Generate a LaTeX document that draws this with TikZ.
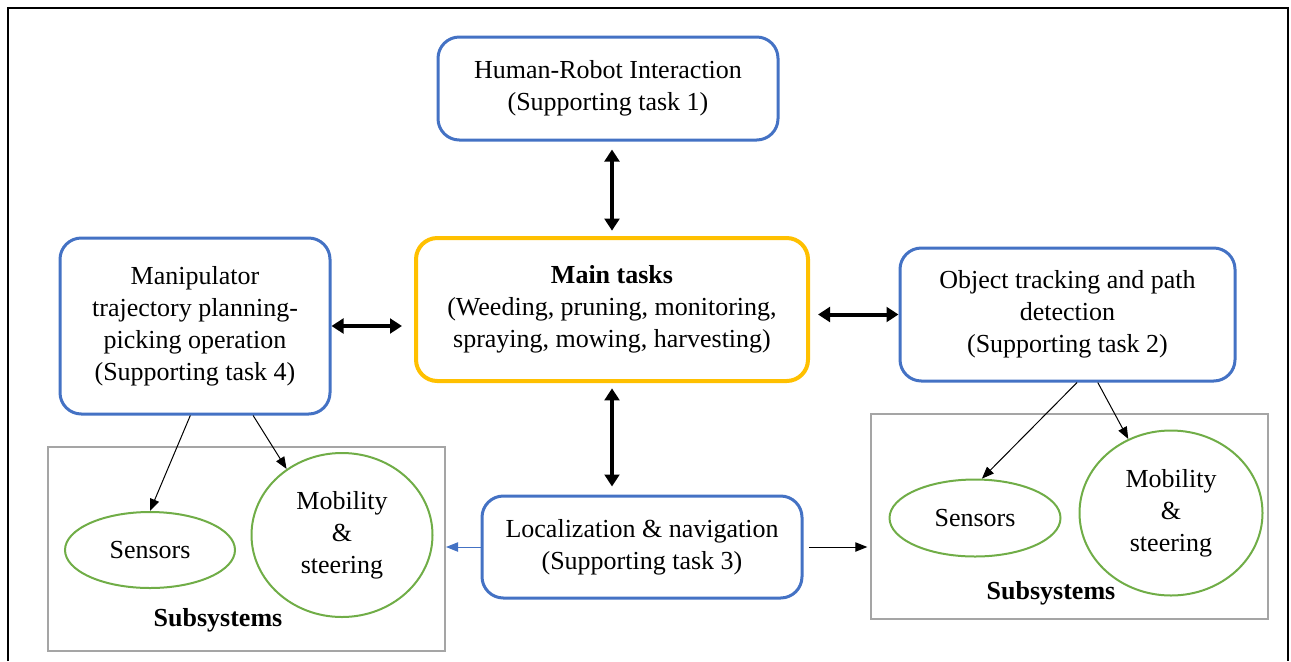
\documentclass[tikz,border=0pt]{standalone}
\usepackage{fontspec}
\setmainfont{Liberation Serif}
\usetikzlibrary{arrows.meta,shapes.geometric}
\definecolor{taskblue}{HTML}{4472C4}
\definecolor{maingold}{HTML}{FFC000}
\definecolor{partgreen}{HTML}{70AD47}
\definecolor{boxgray}{HTML}{A5A5A5}
\begin{document}
\begin{tikzpicture}[
    x=0.75pt, y=-0.75pt,
    font=\fontsize{19.5}{24}\selectfont,
    task/.style={draw=taskblue, line width=2.25pt, rounded corners=16pt, align=center, inner sep=0pt},
    maintask/.style={task, draw=maingold, line width=3pt},
    part/.style={ellipse, draw=partgreen, line width=1.5pt, align=center, inner sep=0pt},
    subbox/.style={draw=boxgray, line width=1.5pt, inner sep=0pt},
    link/.style={{Triangle[length=9pt,width=11pt]}-{Triangle[length=9pt,width=11pt]}, line width=3pt},
    feed/.style={-{Triangle[length=9pt,width=7pt]}, line width=0.75pt}
    ]
    \useasboundingbox (0,0) rectangle (1291,661);
    \draw[line width=1.5pt] (8,661) -- (8,8) -- (1288,8) -- (1288,661);
    % tasks
    \node[task, minimum width=255pt, minimum height=77.25pt] (hri) at (608,88.5)
        {Human-Robot Interaction\\(Supporting task 1)};
    \node[maintask, minimum width=294pt, minimum height=107.25pt] (main) at (612,309.5)
        {\textbf{Main tasks}\\(Weeding, pruning, monitoring,\\spraying, mowing, harvesting)};
    \node[task, minimum width=202.5pt, minimum height=132pt] (manip) at (195,326)
        {Manipulator\\trajectory planning-\\picking operation\\(Supporting task 4)};
    \node[task, minimum width=251.25pt, minimum height=99.75pt] (object) at (1067.5,314.5)
        {Object tracking and path\\detection\\(Supporting task 2)};
    \node[task, minimum width=240pt, minimum height=76.5pt] (loc) at (642,547)
        {Localization \& navigation\\(Supporting task 3)};
    % subsystems
    \node[subbox, minimum width=297.75pt, minimum height=153pt] (subL) at (246.5,549) {};
    \node[subbox, minimum width=297.75pt, minimum height=153.75pt] (subR) at (1069.5,516.5) {};
    \node[part, minimum width=127.5pt, minimum height=57pt] (sensL) at (150,550) {Sensors};
    \node[part, minimum width=135.75pt, minimum height=123pt] (mobL) at (342,535) {Mobility\\\&\\steering};
    \node[part, minimum width=128.25pt, minimum height=57.75pt] (sensR) at (975,518) {Sensors};
    \node[part, minimum width=137.25pt, minimum height=123.75pt] (mobR) at (1171,513) {Mobility\\\&\\steering};
    \node[font=\fontsize{19.5}{24}\selectfont\bfseries] (labL) at (218,620) {Subsystems};
    \node[font=\fontsize{19.5}{24}\selectfont\bfseries] (labR) at (1051,593) {Subsystems};
    % connectors
    \draw[link, shorten <=6pt, shorten >=4pt] (hri.south -| main) -- (main.north);
    \draw[link, shorten <=4pt, shorten >=6pt] (main.south) -- (main.south |- loc.north);
    \draw[link, shorten >=9pt] (manip.east) -- (manip.east -| main.west);
    \draw[link, shorten <=6pt] (main.east |- object.west) -- (object.west);
    \draw[feed] (manip.267) -- (sensL.north);
    \draw[feed] (manip.303) -- (mobL.130);
    \draw[feed] (object.278) -- (sensR.80);
    \draw[feed] (object.294) -- (mobR.120);
    \draw[feed, taskblue] (loc.west) -- (loc.west -| subL.east);
    \draw[feed, shorten <=4pt, shorten >=2pt] (loc.east) -- (loc.east -| subR.west);
\end{tikzpicture}
\end{document}
